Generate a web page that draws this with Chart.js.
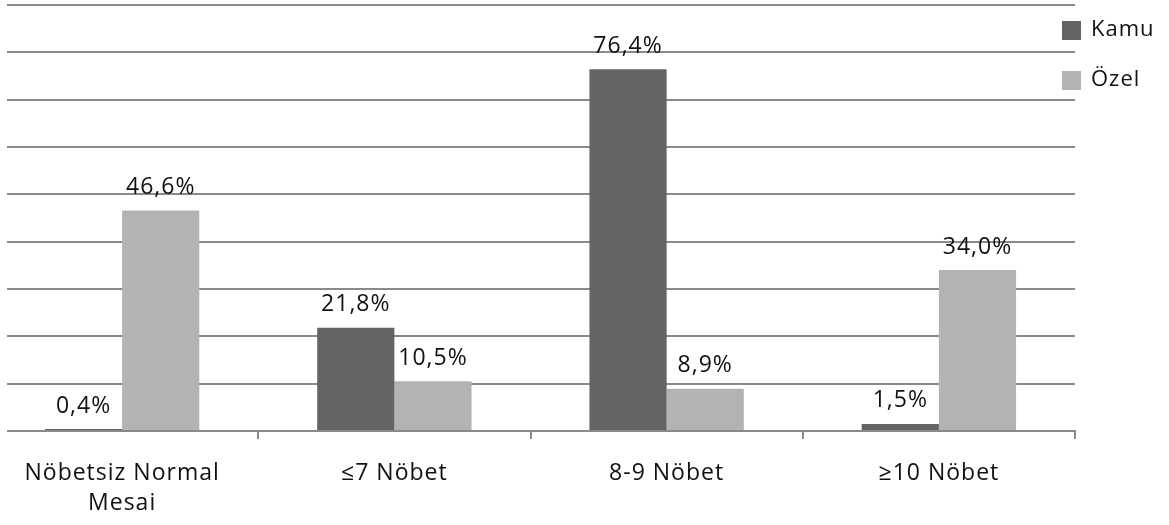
<!DOCTYPE html>
<html><head><meta charset="utf-8">
<script src="https://cdn.jsdelivr.net/npm/chart.js@4/dist/chart.umd.min.js"></script>
<style>html,body{margin:0;padding:0;background:#fff;overflow:hidden}canvas{display:block;margin-left:-14px}</style>
</head><body>
<canvas id="c" width="1183" height="525"></canvas>
<script>
const categories = [["Nöbetsiz Normal","Mesai"], "≤7 Nöbet", "8-9 Nöbet", "≥10 Nöbet"];
const seriesNames = ["Kamu", "Özel"];
const kamuValues = [0.4, 21.8, 76.4, 1.5];
const ozelValues = [46.6, 10.5, 8.9, 34.0];
const seriesColors = ["#646464", "#b3b3b3"];
const yMin = 0, yMax = 90, yStep = 10;

const FONT = "'Open Sans', sans-serif";
const SPACING = "1px";
const SHIFT = 14; // canvas is shifted left by this many px

const spacingPlugin = {
  id: 'spacing',
  beforeDraw(chart) { chart.ctx.letterSpacing = SPACING; }
};
const edgePlugin = {
  id: 'edge',
  beforeDatasetsDraw(chart) {
    const ctx = chart.ctx;
    ctx.save(); ctx.fillStyle = '#fff'; ctx.fillRect(0, 0, SHIFT + 7, chart.chartArea.bottom + 4); ctx.restore();
  }
};
const labelPlugin = {
  id: 'vlabels',
  afterDatasetsDraw(chart) {
    const ctx = chart.ctx;
    ctx.save();
    ctx.letterSpacing = SPACING;
    ctx.font = "23px " + FONT;
    ctx.fillStyle = "#111";
    ctx.textAlign = "center";
    ctx.textBaseline = "middle";
    chart.data.datasets.forEach((ds, i) => {
      chart.getDatasetMeta(i).data.forEach((bar, j) => {
        const txt = ds.data[j].toFixed(1).replace('.', ',') + '%';
        ctx.fillText(txt, bar.x, bar.y - 23);
      });
    });
    ctx.restore();
  }
};
const legendPlugin = {
  id: 'customLegend',
  afterDraw(chart) {
    const ctx = chart.ctx;
    ctx.save();
    ctx.letterSpacing = SPACING;
    ctx.font = "22px " + FONT;
    ctx.textBaseline = "middle";
    ctx.textAlign = "left";
    chart.data.datasets.forEach((ds, i) => {
      const y = 30 + i * 50;
      ctx.fillStyle = ds.backgroundColor;
      ctx.fillRect(SHIFT + 1062, y - 9, 19, 19);
      ctx.fillStyle = "#111";
      ctx.fillText(ds.label, SHIFT + 1091, y);
    });
    ctx.restore();
  }
};

new Chart(document.getElementById('c'), {
  type: 'bar',
  data: {
    labels: categories,
    datasets: [
      { label: seriesNames[0], data: kamuValues, backgroundColor: seriesColors[0] },
      { label: seriesNames[1], data: ozelValues, backgroundColor: seriesColors[1] }
    ]
  },
  options: {
    responsive: false,
    animation: false,
    devicePixelRatio: 1,
    layout: { padding: { left: 0, right: 94, top: 5, bottom: 0 } },
    categoryPercentage: 0.567,
    barPercentage: 1.0,
    plugins: { legend: { display: false }, tooltip: { enabled: false } },
    scales: {
      x: {
        offset: true,
        grid: { display: true, offset: true, drawOnChartArea: false, drawTicks: true, tickLength: 8, color: '#8a8a8a', lineWidth: 2 },
        border: { display: true, color: '#8a8a8a', width: 2 },
        ticks: { color: '#111', font: { family: FONT, size: 23, lineHeight: 1.3 }, padding: 20, maxRotation: 0, autoSkip: false },
        afterFit(s) { s.height = 94; }
      },
      y: {
        min: yMin, max: yMax,
        ticks: { display: false, stepSize: yStep },
        grid: { color: '#8a8a8a', lineWidth: 2, drawTicks: false },
        border: { display: false },
        afterFit(s) { s.width = 0; }
      }
    }
  },
  plugins: [spacingPlugin, edgePlugin, labelPlugin, legendPlugin]
});
</script>
</body></html>
